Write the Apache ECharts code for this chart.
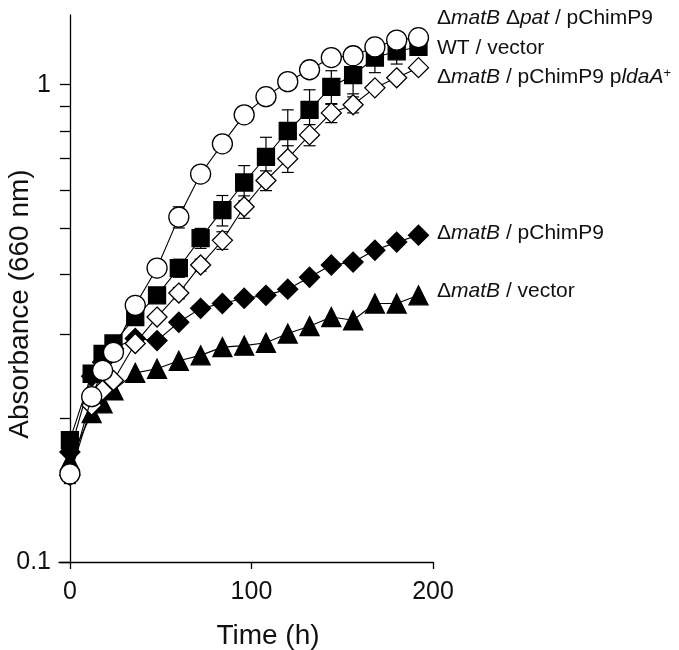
<!DOCTYPE html>
<html>
<head>
<meta charset="utf-8">
<script src="https://cdn.jsdelivr.net/npm/echarts@6/dist/echarts.min.js"></script>
<style>
html,body{margin:0;padding:0;background:#fff;}
#chart{width:679px;height:650px;}
</style>
</head>
<body>
<div id="chart"></div>
<script>
// ---- data ----
const times = [0, 12, 18, 24, 36, 48, 60, 72, 84, 96, 108, 120, 132, 144, 156, 168, 180, 192];
const patValues   = [0.153, 0.222, 0.252, 0.275, 0.345, 0.413, 0.528, 0.65, 0.752, 0.865, 0.944, 1.015, 1.075, 1.14, 1.15, 1.2, 1.24, 1.255];
const patErr      = [0.007, 0.004, 0.004, 0.005, 0.006, 0.012, 0.027, 0.01, 0.01, 0.01, 0.01, 0.01, 0.01, 0.01, 0.01, 0.01, 0.01, 0.01];
const wtValues    = [0.18, 0.248, 0.273, 0.287, 0.326, 0.362, 0.413, 0.477, 0.546, 0.624, 0.706, 0.8, 0.886, 0.99, 1.047, 1.14, 1.175, 1.2];
const wtErr       = [0.005, 0.005, 0.005, 0.006, 0.008, 0.01, 0.018, 0.023, 0.04, 0.053, 0.07, 0.086, 0.09, 0.08, 0.09, 0.08, 0.07, 0.03];
const ldaValues   = [0.152, 0.213, 0.229, 0.24, 0.287, 0.326, 0.366, 0.419, 0.472, 0.555, 0.63, 0.7, 0.785, 0.873, 0.908, 0.985, 1.034, 1.086];
const ldaErr      = [0.004, 0.003, 0.003, 0.004, 0.005, 0.006, 0.01, 0.012, 0.02, 0.03, 0.03, 0.045, 0.04, 0.04, 0.035, 0.01, 0.01, 0.01];
const chimValues  = [0.17, 0.245, 0.262, 0.28, 0.294, 0.291, 0.318, 0.34, 0.348, 0.357, 0.362, 0.373, 0.395, 0.419, 0.425, 0.45, 0.468, 0.484];
const vecValues   = [0.163, 0.205, 0.215, 0.229, 0.249, 0.254, 0.264, 0.271, 0.282, 0.284, 0.288, 0.301, 0.312, 0.326, 0.321, 0.348, 0.348, 0.362];
const xTicks = [0, 100, 200];
const yTicks = [0.1, 0.2, 0.3, 0.4, 0.5, 0.6, 0.7, 0.8, 0.9, 1];
const yLabels = [0.1, 1];
const xTitle = 'Time (h)';
const yTitle = 'Absorbance (660 nm)';

const FONT = 'Arial, "Liberation Sans", Helvetica, sans-serif';
const chart = echarts.init(document.getElementById('chart'), null, {renderer: 'canvas'});

function pairs(vals) { return times.map((t, i) => [t, vals[i]]); }
function errData(vals, errs) { return times.map((t, i) => [t, vals[i] - errs[i], vals[i] + errs[i]]); }

function errSeries(vals, errs) {
  return {
    type: 'custom',
    z: 1,
    clip: false,
    silent: true,
    data: errData(vals, errs),
    encode: {x: 0, y: [1, 2]},
    renderItem: function (params, api) {
      const x = api.value(0);
      const lo = api.coord([x, api.value(1)]);
      const hi = api.coord([x, api.value(2)]);
      const w = 6;
      const st = {stroke: '#000', lineWidth: 1.2};
      return {
        type: 'group',
        children: [
          {type: 'line', shape: {x1: lo[0], y1: lo[1], x2: hi[0], y2: hi[1]}, style: st},
          {type: 'line', shape: {x1: lo[0] - w, y1: lo[1], x2: lo[0] + w, y2: lo[1]}, style: st},
          {type: 'line', shape: {x1: hi[0] - w, y1: hi[1], x2: hi[0] + w, y2: hi[1]}, style: st}
        ]
      };
    }
  };
}

function lineSeries(name, vals, symbol, size, fill, z) {
  return {
    name: name,
    type: 'line',
    data: pairs(vals),
    symbol: symbol,
    symbolSize: size,
    showAllSymbol: true,
    clip: false,
    z: z,
    lineStyle: {color: '#000', width: 1.1},
    itemStyle: {color: fill, borderColor: '#000', borderWidth: 1.3, opacity: 1},
    emphasis: {disabled: true},
    animation: false
  };
}

const rich = {
  n: {fontFamily: FONT, fontSize: 21, fontStyle: 'normal', color: '#111'},
  i: {fontFamily: FONT, fontSize: 21, fontStyle: 'italic', color: '#111'},
  s: {fontFamily: FONT, fontSize: 13, fontStyle: 'normal', color: '#111', verticalAlign: 'top', padding: [0, 0, 8, 0]}
};
function lab(text, y) {
  return {type: 'text', left: 437, top: y - 13, style: {text: text, rich: rich, font: '21px ' + FONT, fill: '#111'}};
}

const option = {
  animation: false,
  backgroundColor: '#fff',
  grid: {left: 59, right: 246, top: 15, bottom: 88, containLabel: false},
  xAxis: {
    type: 'value', min: -6, max: 200,
    axisLine: {onZero: false, lineStyle: {color: '#000', width: 1.3}},
    axisTick: {show: true, customValues: xTicks, length: 7, inside: false, lineStyle: {color: '#000', width: 1.3}},
    axisLabel: {customValues: xTicks, margin: 18, fontSize: 25, fontFamily: FONT, color: '#111'},
    splitLine: {show: false}
  },
  yAxis: {
    type: 'log', logBase: 10, min: 0.1, max: 1.4,
    axisLine: {onZero: true, lineStyle: {color: '#000', width: 1.3}},
    axisTick: {show: true, customValues: yTicks, length: 10, inside: false, lineStyle: {color: '#000', width: 1.3}},
    axisLabel: {customValues: yLabels, margin: 8, fontSize: 25, fontFamily: FONT, color: '#111',
      formatter: v => (Math.abs(v - 1) < 1e-6 ? '1' : '0.1')},
    splitLine: {show: false},
    minorTick: {show: false}
  },
  graphic: [
    {type: 'text', x: 268, y: 636, style: {text: xTitle, font: '28px ' + FONT, fill: '#111', align: 'center', verticalAlign: 'middle'}},
    {type: 'text', x: 20, y: 304, rotation: Math.PI / 2, style: {text: yTitle, font: '28px ' + FONT, fill: '#111', align: 'center', verticalAlign: 'middle'}},
    lab('{n|Δ}{i|matB} {n|Δ}{i|pat}{n| / pChimP9}', 21),
    lab('{n|WT / vector}', 51),
    lab('{n|Δ}{i|matB}{n| / pChimP9 p}{i|ldaA}{s|+}', 80),
    lab('{n|Δ}{i|matB}{n| / pChimP9}', 236),
    lab('{n|Δ}{i|matB}{n| / vector}', 294)
  ],
  series: [
    errSeries(wtValues, wtErr),
    errSeries(ldaValues, ldaErr),
    errSeries(patValues, patErr),
    lineSeries('vector', vecValues, 'triangle', 19, '#000', 3),
    lineSeries('pChimP9', chimValues, 'diamond', 20, '#000', 4),
    lineSeries('pldaA', ldaValues, 'diamond', 20, '#fff', 5),
    lineSeries('WT', wtValues, 'rect', 17, '#000', 6),
    lineSeries('pat', patValues, 'circle', 20, '#fff', 7)
  ]
};
chart.setOption(option);
</script>
</body>
</html>
